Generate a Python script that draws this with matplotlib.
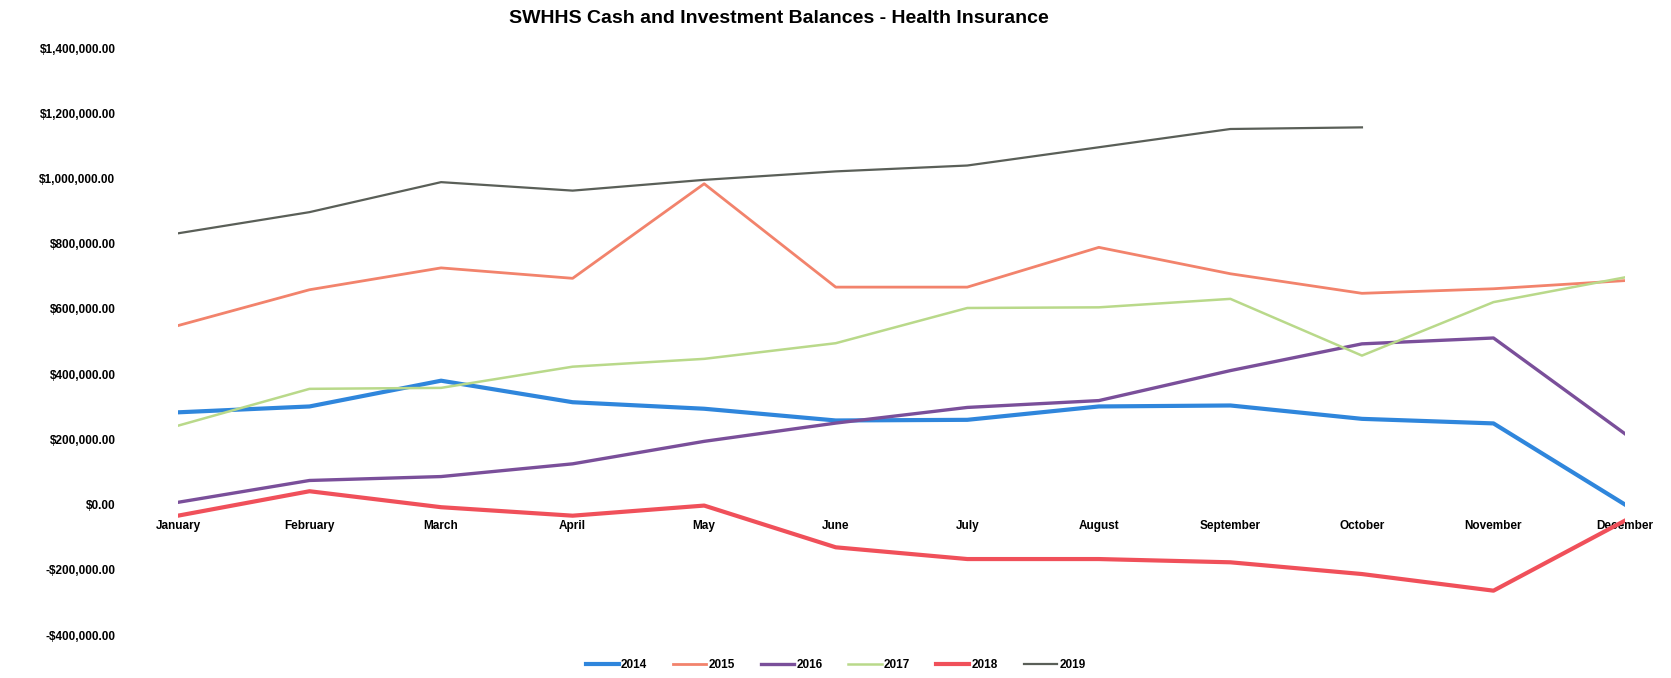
import matplotlib.pyplot as plt
from matplotlib.ticker import FuncFormatter

MONTHS = ["January", "February", "March", "April", "May", "June",
          "July", "August", "September", "October", "November", "December"]

Y2014 = [283000, 301000, 380000, 314000, 294000, 258000,
         260000, 301000, 304000, 263000, 249000, 0]
Y2015 = [549000, 659000, 726000, 694000, 984000, 667000,
         667000, 789000, 708000, 648000, 662000, 687000]
Y2016 = [7000, 74000, 86000, 125000, 194000, 250000,
         298000, 319000, 411000, 493000, 511000, 217000]
Y2017 = [242000, 355000, 358000, 423000, 447000, 495000,
         603000, 605000, 631000, 457000, 621000, 697000]
Y2018 = [-34000, 41000, -8000, -34000, -3000, -131000,
         -167000, -167000, -177000, -213000, -264000, -49000]
Y2019 = [832000, 897000, 989000, 963000, 996000, 1022000,
         1040000, 1096000, 1152000, 1157000]

TITLE = "SWHHS Cash and Investment Balances - Health Insurance"

# colors
colors = {
    "2014": "#2f86dc",
    "2015": "#f2836c",
    "2016": "#7a4f9a",
    "2017": "#b9d98a",
    "2018": "#f0505a",
    "2019": "#5a5f58",
}
widths = {"2014": 3.0, "2015": 2.0, "2016": 2.4, "2017": 1.8, "2018": 3.0, "2019": 1.6}

plt.rcParams['font.family'] = ['Liberation Sans', 'DejaVu Sans']

fig = plt.figure(figsize=(16.71, 6.78), dpi=100)
ax = fig.add_axes([0.1065, 0.0634, 0.866, 0.8656])

series = [("2014", Y2014), ("2015", Y2015), ("2016", Y2016),
          ("2017", Y2017), ("2018", Y2018), ("2019", Y2019)]
for name, vals in series:
    ax.plot(range(len(vals)), vals, color=colors[name], lw=widths[name], label=name)

ax.set_xlim(0, 11)
ax.set_ylim(-400000, 1400000)
ax.set_yticks(range(-400000, 1400001, 200000))
ax.yaxis.set_major_formatter(FuncFormatter(
    lambda v, p: f"-${abs(v):,.2f}" if v < 0 else f"${v:,.2f}"))
ax.set_xticks(range(12))
ax.set_xticklabels(MONTHS)

for s in ax.spines.values():
    s.set_visible(False)
ax.spines['bottom'].set_position(('data', 0))
ax.tick_params(axis='both', length=0, labelsize=8.5)
ax.tick_params(axis='y', pad=45)
ax.tick_params(axis='x', pad=11)
for lbl in ax.get_xticklabels() + ax.get_yticklabels():
    lbl.set_fontweight('bold')

fig.suptitle(TITLE, x=0.466, y=0.985, fontsize=14, fontweight='bold')

leg = fig.legend(loc='lower center', bbox_to_anchor=(0.5, -0.005), ncol=6,
                 frameon=False, handlelength=2.8, handletextpad=0.2,
                 columnspacing=2.2, prop={'size': 8.5, 'weight': 'bold'})

fig.savefig("out.png", dpi=100)
